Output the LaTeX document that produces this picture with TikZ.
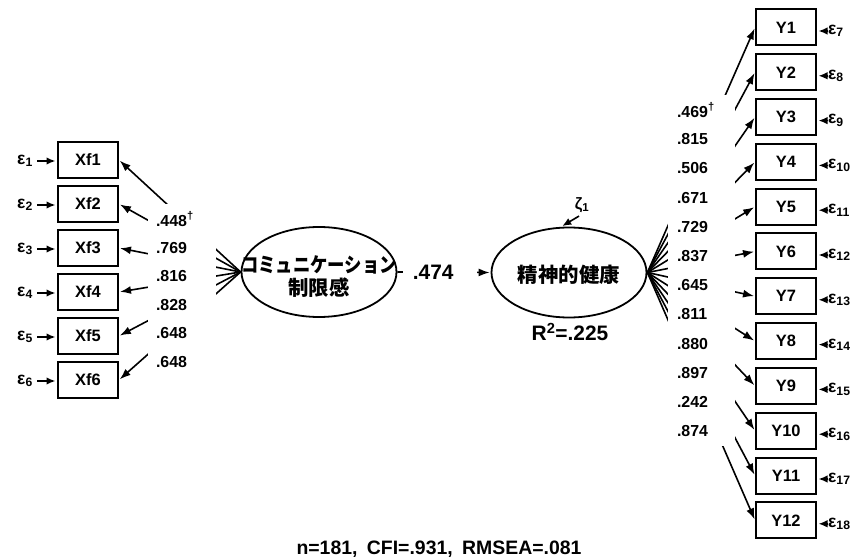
\documentclass[tikz,border=0pt]{standalone}
\usepackage{fontspec}
\usepackage{graphicx}
\setmainfont{Liberation Sans}
\newfontfamily\jpfont{Noto Sans CJK JP}
\usetikzlibrary{arrows.meta, shapes.geometric}

\begin{document}
\begin{tikzpicture}[x=1bp, y=-1bp, font=\bfseries\fontsize{16.5}{19}\selectfont,
  obs/.style={draw, line width=2bp, minimum width=60bp, minimum height=36bp, inner sep=0pt},
  lat/.style={draw, ellipse, line width=1.8bp, minimum width=155bp, minimum height=90bp, inner sep=0pt},
  lattxt/.style={inner sep=0pt, align=center, font=\jpfont\bfseries\fontsize{20.5}{23}\selectfont},
  ld/.style={line width=1.6bp, -{Latex[length=11bp,width=8bp]}, shorten >=1bp},
  arr/.style={line width=1.6bp, -{Latex[length=9bp,width=7.5bp]}, shorten >=1.5bp},
  err/.style={inner sep=0pt, font=\bfseries\fontsize{17.5}{20}\selectfont},
  coef/.style={fill=white, inner ysep=0pt, align=left, font=\bfseries\fontsize{16}{18}\selectfont},
  big/.style={font=\bfseries\fontsize{21}{24}\selectfont}]
  \useasboundingbox (0,0) rectangle (859,558);

  \node[lat] (F1) at (319,272) {};
  \node[lat] (F2) at (569,272.5) {};
  \node[lattxt] (F1t) at (319,277) {\scalebox{0.85}[1]{コミュニケーション}\\制限感};
  \node[lattxt] (F2t) at (569,275) {精神的健康};

  \foreach \i in {1,...,6} {
    \node[obs] (X\i) at (88,{160+44*(\i-1)}) {Xf\i};
    \node[err, anchor=east] (d\i) at (33,{161+44*(\i-1)}) {ε\textsubscript{\i}};
    \draw[arr] ([xshift=4bp]d\i.east) -- (X\i.west |- d\i.east);
    \draw[ld] (F1.west) -- (X\i.east);
  }
  \foreach \i [evaluate=\i as \k using int(\i+6)] in {1,...,12} {
    \node[obs] (Y\i) at (786,{27.5+44.8*(\i-1)}) {Y\i};
    \node[err, anchor=west] (e\i) at (828,{31+44.8*(\i-1)}) {ε\textsubscript{\k}};
    \draw[arr] (e\i.west) -- (Y\i.east |- e\i.west);
    \draw[ld] (F2.east) -- (Y\i.west);
  }

  \foreach \v [count=\i] in {.448\textsuperscript{†},.769,.816,.828,.648,.648}
    \node[coef, minimum height=29.6bp, text width=52bp, inner xsep=8bp] (a\i) at (182,{219+28.6*(\i-1)}) {\v};
  \foreach \v [count=\i] in {.469\textsuperscript{†},.815,.506,.671,.729,.837,.645,.811,.880,.897,.242,.874}
    \node[coef, minimum height=30.2bp, text width=49bp, inner xsep=9bp] (b\i) at (701.5,{110+29.2*(\i-1)}) {\v};

  \draw[ld] (F1.east) -- node[pos=0.456, big, fill=white, text width=54bp, inner xsep=10bp, align=left] (beta) {.474} (F2.west);

  \node (zeta) at (582,205) {ζ\textsubscript{1}};
  \draw[arr] ([xshift=-3bp]zeta.south) -- (F2.100);
  \node[big] (r2) at (570,332) {R\textsuperscript{2}=.225};

  \node (fit) at (439,549) {\fontsize{19.5}{22}\selectfont n=181,\ \hspace{4bp}CFI=.931,\ \hspace{4bp}RMSEA=.081};
\end{tikzpicture}
\end{document}
